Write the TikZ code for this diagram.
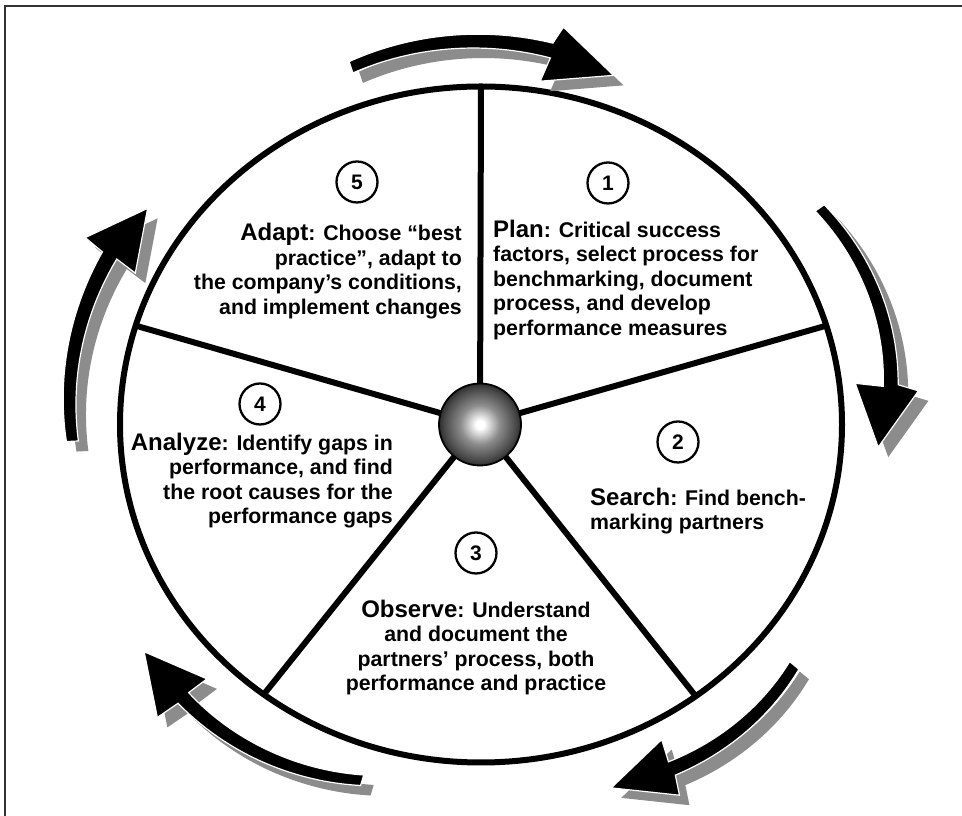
\documentclass[tikz,border=0pt]{standalone}
\usepackage{fontspec}
\setmainfont{Liberation Sans}
\pgfdeclareradialshading{hubshade}{\pgfpointorigin}{%
  color(0bp)=(white); color(2.5bp)=(white); color(12bp)=(black!45);
  color(22bp)=(black!72); color(25bp)=(black!82); color(50bp)=(black!82)}
\newcommand\bodysize{\fontsize{21.3pt}{24.5pt}\selectfont\bfseries}
\newcommand\lab[1]{{\fontsize{24pt}{24.5pt}\selectfont #1}}
\newcommand\arrowbulge{5}
\newcommand\arrowpt[3]{\coordinate (#1) at ({(419+(#3))*cos(#2)},{(384+(#3))*sin(#2)});}
% #1 name #2 dx #3 dy #4 t1 #5 c1 #6 w1 #7 t2 #8 c2 #9 w2
\newcommand\arrowpath[9]{%
  plot[domain=0:1, samples=40, variable=\pp]
    ({#2+(419+(#5)+((#8)-(#5))*\pp+\arrowbulge*4*\pp*(1-\pp)+0.5*((#6)+((#9)-(#6))*\pp))*cos((#4)+((#7)-(#4))*\pp)},
     {#3+(384+(#5)+((#8)-(#5))*\pp+\arrowbulge*4*\pp*(1-\pp)+0.5*((#6)+((#9)-(#6))*\pp))*sin((#4)+((#7)-(#4))*\pp)})
  -- ([shift={(#2,#3)}]#1-ho) -- ([shift={(#2,#3)}]#1-tip) -- ([shift={(#2,#3)}]#1-hi)
  -- plot[domain=0:1, samples=40, variable=\pp]
    ({#2+(419+(#5)+((#8)-(#5))*(1-\pp)+\arrowbulge*4*(1-\pp)*\pp-0.5*((#6)+((#9)-(#6))*(1-\pp)))*cos((#4)+((#7)-(#4))*(1-\pp))},
     {#3+(384+(#5)+((#8)-(#5))*(1-\pp)+\arrowbulge*4*(1-\pp)*\pp-0.5*((#6)+((#9)-(#6))*(1-\pp)))*sin((#4)+((#7)-(#4))*(1-\pp))})
  -- cycle}
\newcommand\cyclearrow[7]{%
  \fill[arrowshadow] \arrowpath{#1}{10}{-10}{#2}{#3}{#4}{#5}{#6}{#7};
  \filldraw[arrowbody] \arrowpath{#1}{0}{0}{#2}{#3}{#4}{#5}{#6}{#7};}
\tikzset{
  frameline/.style={line width=1.8pt, draw=black!80},
  rimline/.style={line width=6pt, draw=black},
  spoke/.style={line width=6pt, draw=black},
  hubball/.style={circle, minimum size=82pt, inner sep=0pt, shade, shading=hubshade, draw=black, line width=1.8pt},
  numcirc/.style={circle, draw=black, line width=2.3pt, minimum size=41pt, inner sep=0pt,
    font=\fontsize{21pt}{21pt}\selectfont\bfseries},
  txt/.style={inner sep=0pt, font=\bodysize},
  arrowshadow/.style={fill=black!45},
  arrowbody/.style={fill=black, draw=white, line width=1.2pt, line join=miter},
}
\begin{document}
\begin{tikzpicture}[x=1pt,y=1pt]
\useasboundingbox (0,0) rectangle (962,816);
\fill[white] (0,0) rectangle (962,816);
\draw[frameline] (5,0) -- (5,810) -- (962,810);

% wheel
\draw[rimline] (481,391.5) ellipse [x radius=361, y radius=338];
\coordinate (rim1) at ({481+361*cos(90)},{391.5+338*sin(90)});
\coordinate (rim2) at ({481+361*cos(17)},{391.5+338*sin(17)});
\coordinate (rim3) at ({481+361*cos(-53.5)},{391.5+338*sin(-53.5)});
\coordinate (rim4) at ({481+361*cos(-127)},{391.5+338*sin(-127)});
\coordinate (rim5) at ({481+361*cos(163)},{391.5+338*sin(163)});
\coordinate (hubc) at (480,391.5);
\foreach \k in {1,...,5} \draw[spoke] (hubc) -- (rim\k);
\node[hubball] (hub) at (hubc) {};

% step numbers
\node[numcirc] (n1) at (608,633) {1};
\node[numcirc] (n2) at (678,374) {2};
\node[numcirc] (n3) at (476,263) {3};
\node[numcirc] (n4) at (260,412) {4};
\node[numcirc] (n5) at (357,634) {5};

% texts
\node[txt, anchor=north west, align=left] (plan) at (493,596.15)
  {\strut\lab{Plan}: Critical success\\factors, select process for\\benchmarking, document\\process, and develop\\performance measures};
\node[txt, anchor=north west, align=left] (search) at (590,328.15)
  {\strut\lab{Search}: Find bench-\\marking partners};
\node[txt, anchor=north, align=center] (observe) at (476,216.15)
  {\strut\lab{Observe}: Understand\\and document the\\partners’ process, both\\performance and practice};
\node[txt, anchor=north east, align=right] (analyze) at (393,383.15)
  {\strut\lab{Analyze}: Identify gaps in\\performance, and find\\the root causes for the\\performance gaps};
\node[txt, anchor=north east, align=right] (adapt) at (462,592.65)
  {\strut\lab{Adapt}: Choose “best\\practice”, adapt to\\the company’s conditions,\\and implement changes};

% cycle arrows
\begin{scope}[shift={(481,391)}]
  \arrowpt{ta-ho}{79.2}{21}\arrowpt{ta-hi}{81.1}{-36}\arrowpt{ta-tip}{70.9}{-14}
  \arrowpt{ra-ho}{4.85}{20}\arrowpt{ra-hi}{7}{-42}\arrowpt{ra-tip}{-3.5}{-21}
  \arrowpt{lra-ho}{-63.7}{29}\arrowpt{lra-hi}{-62.4}{-29}\arrowpt{lra-tip}{-71.8}{-2}
  \arrowpt{lla-ho}{-135.6}{34}\arrowpt{lla-hi}{-134.5}{-28}\arrowpt{lla-tip}{-143.7}{-1}
  \arrowpt{la-ho}{152.8}{26}\arrowpt{la-hi}{154.2}{-35}\arrowpt{la-tip}{144.6}{-10}
  \renewcommand\arrowbulge{5.4}\cyclearrow{ta}{108.4}{-7}{12}{80.2}{-4}{15}
  \renewcommand\arrowbulge{6}\cyclearrow{ra}{35}{-5.5}{11}{6}{-7}{15}
  \renewcommand\arrowbulge{5}\cyclearrow{lra}{-40}{-10}{12}{-63}{1.5}{15}
  \renewcommand\arrowbulge{7}\cyclearrow{lla}{-107}{-12.5}{11}{-135}{2}{15}
  \renewcommand\arrowbulge{3}\cyclearrow{la}{182.5}{-10}{12}{153.5}{-4}{16}
\end{scope}
\end{tikzpicture}
\end{document}
